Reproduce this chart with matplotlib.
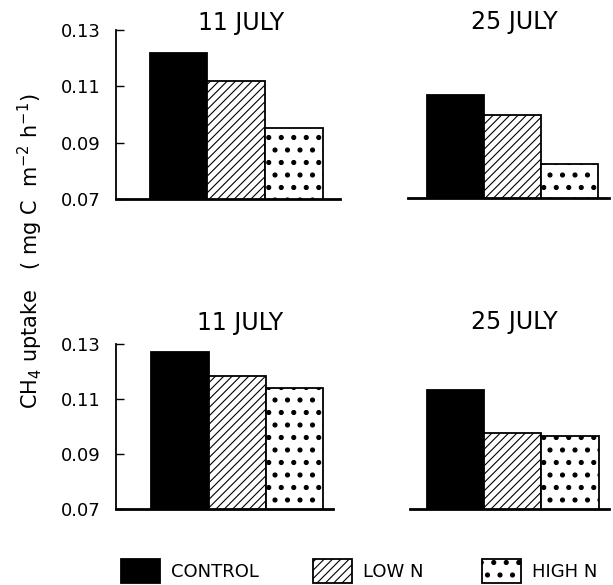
import matplotlib
matplotlib.use("Agg")
import matplotlib.pyplot as plt
import matplotlib.hatch as mhatch

# ---- data ----
treatments = ["CONTROL", "LOW N", "HIGH N"]
dates = ["11 JULY", "25 JULY"]
top_11july = [0.1217, 0.1119, 0.0951]
top_25july = [0.1068, 0.0996, 0.0822]
bottom_11july = [0.1271, 0.1185, 0.1141]
bottom_25july = [0.1133, 0.0975, 0.0964]
yticks = [0.07, 0.09, 0.11, 0.13]
ytick_labels = ["0.07", "0.09", "0.11", "0.13"]


# ---- larger dot hatch ----
class BigDots(mhatch.Circles):
    size = 0.16
    filled = True

    def __init__(self, hatch, density):
        n = int(round(hatch.count('.') * density * 4 / 3))
        self.num_rows = n + (n % 2)
        super().__init__(hatch, density)


mhatch._hatch_types = [h for h in mhatch._hatch_types
                       if h is not mhatch.SmallFilledCircles] + [BigDots]

plt.rcParams['font.family'] = ['DejaVu Sans']
plt.rcParams['hatch.linewidth'] = 0.8
plt.rcParams['hatch.color'] = 'black'

W, H = 613, 585
fig = plt.figure(figsize=(W / 100, H / 100), dpi=100)


def px_axes(left, right, top, bottom):
    return fig.add_axes([left / W, 1 - bottom / H, (right - left) / W, (bottom - top) / H])


styles = [dict(color='black', edgecolor='black'),
          dict(color='white', edgecolor='black', hatch='////'),
          dict(color='white', edgecolor='black', hatch='.')]

panels = [
    (top_11july, dates[0], (116, 340, 30, 199), (-1.082, 2.797), True, (241, 23)),
    (top_25july, dates[1], (408, 609, 30, 198), (-0.833, 2.693), False, (514, 22)),
    (bottom_11july, dates[0], (116, 333, 344, 509), (-1.118, 2.672), True, (240, 323)),
    (bottom_25july, dates[1], (410, 609, 344, 509), (-0.795, 2.681), False, (514, 322)),
]

handles = []
for vals, title, box, xl, show_y, tpos in panels:
    ax = px_axes(*box)
    bars = []
    for i, (v, st) in enumerate(zip(vals, styles)):
        b = ax.bar(i, v, width=1.0, linewidth=1.3, label=treatments[i], **st)
        bars.append(b)
    if not handles:
        handles = bars
    ax.set_xlim(*xl)
    ax.set_ylim(0.07, 0.13)
    ax.set_xticks([])
    for s in ['top', 'right']:
        ax.spines[s].set_visible(False)
    ax.spines['bottom'].set_linewidth(2.0)
    if show_y:
        ax.spines['left'].set_linewidth(1.3)
        ax.set_yticks(yticks)
        ax.set_yticklabels(ytick_labels)
        ax.tick_params(axis='y', direction='in', length=6, width=1.0,
                       pad=11, labelsize=13)
    else:
        ax.spines['left'].set_visible(False)
        ax.set_yticks([])
    fig.text(tpos[0] / W, 1 - tpos[1] / H, title, ha='center', va='center',
             fontsize=17)

fig.text(30 / W, 1 - 251 / H, 'CH$_4$ uptake   ( mg C  m$^{-2}$ h$^{-1}$)',
         rotation=90, ha='center', va='center', fontsize=15)

legend_x = [121, 313, 482]
for h, lab, lx in zip(handles, treatments, legend_x):
    fig.legend(handles=[h], labels=[lab], loc='center left',
               bbox_to_anchor=(lx / W, 1 - 571 / H), frameon=False,
               fontsize=13, handlelength=2.15, handleheight=1.75,
               handletextpad=0.6, borderpad=0, borderaxespad=0)

fig.savefig('out.png', dpi=100)
